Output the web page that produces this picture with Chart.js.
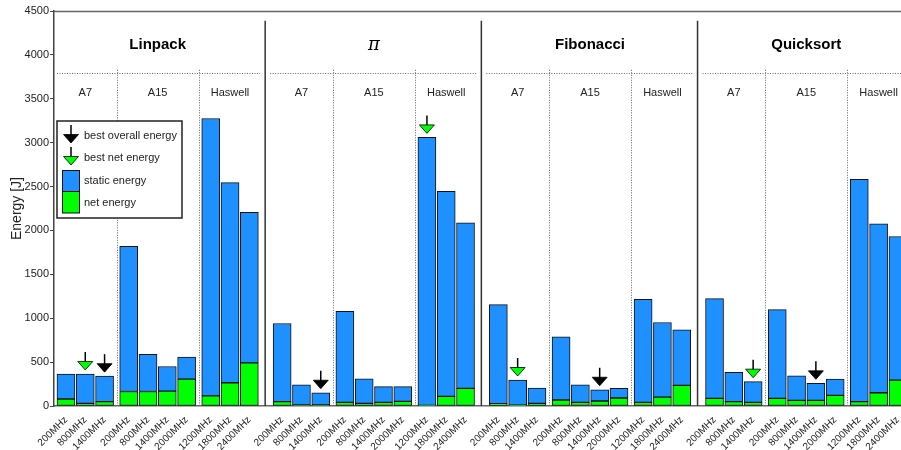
<!DOCTYPE html>
<html>
<head>
<meta charset="utf-8">
<script src="https://cdn.jsdelivr.net/npm/chart.js@4.4.1/dist/chart.umd.min.js"></script>
<style>
  html, body { margin: 0; padding: 0; background: #fff; }
  #wrap { width: 901px; height: 450px; }
</style>
</head>
<body>
<div id="wrap"><canvas id="energyChart"></canvas></div>
<script>
// benchmarks and cpus
const benchmarks = ['Linpack', 'π', 'Fibonacci', 'Quicksort'];
const cpus = ['A7', 'A15', 'Haswell'];
const frequencies = ['200MHz', '800MHz', '1400MHz',
  '200MHz', '800MHz', '1400MHz', '2000MHz',
  '1200MHz', '1800MHz', '2400MHz'];

// total energy (J) per bar
const linpackTotal = [365, 365, 340, 1818, 590, 450, 556, 3275, 2545, 2205];
const piTotal = [940, 240, 151, 1078, 310, 220, 220, 3060, 2446, 2088];
const fibonacciTotal = [1155, 296, 205, 787, 240, 185, 201, 1215, 951, 867];
const quicksortTotal = [1223, 383, 277, 1098, 344, 258, 307, 2582, 2075, 1931];

// net energy (J) per bar
const linpackNet = [80, 30, 50, 165, 165, 170, 307, 115, 265, 492];
const piNet = [49, 11, 11, 42, 30, 42, 53, 8, 110, 201];
const fibonacciNet = [26, 10, 30, 68, 42, 57, 91, 42, 102, 235];
const quicksortNet = [87, 49, 42, 87, 64, 64, 121, 49, 151, 295];

// index of the best configuration in each benchmark
const bestOverall = [2, 2, 5, 5];
const bestNet = [1, 7, 1, 2];

const totals = [linpackTotal, piTotal, fibonacciTotal, quicksortTotal];
const nets = [linpackNet, piNet, fibonacciNet, quicksortNet];

// bar layout on a linear x axis (one unit = one bar slot)
const slotOffsets = [0, 1, 2, 3.25, 4.25, 5.25, 6.25, 7.5, 8.5, 9.5];
const groupStep = 11.2;
const cpuCenters = [1, 4.75, 8.5];
const cpuDividers = [2.625, 6.875];

const xPos = [], xLabels = [], netData = [], staticData = [];
benchmarks.forEach((b, g) => {
  slotOffsets.forEach((o, i) => {
    const x = g * groupStep + o;
    xPos.push(x);
    xLabels.push(frequencies[i]);
    netData.push({ x: x, y: nets[g][i] });
    staticData.push({ x: x, y: totals[g][i] - nets[g][i] });
  });
});

const FONT = "'Liberation Sans', Arial, sans-serif";

function drawArrow(ctx, cx, tipY, fill) {
  ctx.save();
  ctx.strokeStyle = '#000';
  ctx.lineWidth = 1.5;
  ctx.beginPath();
  ctx.moveTo(cx, tipY - 18);
  ctx.lineTo(cx, tipY - 8);
  ctx.stroke();
  ctx.beginPath();
  ctx.moveTo(cx - 7.5, tipY - 8.5);
  ctx.lineTo(cx + 7.5, tipY - 8.5);
  ctx.lineTo(cx, tipY);
  ctx.closePath();
  ctx.fillStyle = fill;
  ctx.fill();
  ctx.lineWidth = 0.8;
  ctx.stroke();
  ctx.restore();
}

const decorations = {
  id: 'decorations',
  beforeDatasetsDraw(chart) {
    const { ctx, chartArea: a, scales: { x, y } } = chart;
    ctx.save();
    // top frame
    ctx.strokeStyle = '#666';
    ctx.lineWidth = 1.5;
    ctx.beginPath();
    ctx.moveTo(a.left, a.top + 0.5);
    ctx.lineTo(a.right, a.top + 0.5);
    ctx.stroke();

    // solid separators between benchmarks
    ctx.strokeStyle = '#333';
    ctx.lineWidth = 1.5;
    for (let g = 1; g < benchmarks.length; g++) {
      const px = x.getPixelForValue(g * groupStep - 0.88);
      ctx.beginPath();
      ctx.moveTo(px, y.getPixelForValue(4390));
      ctx.lineTo(px, y.getPixelForValue(0));
      ctx.stroke();
    }

    // dotted lines
    ctx.strokeStyle = '#666';
    ctx.lineWidth = 1;
    ctx.setLineDash([1, 1.5]);
    benchmarks.forEach((b, g) => {
      const x0 = Math.max(x.getPixelForValue(g * groupStep - 0.88) + 5, a.left + 3);
      const x1 = x.getPixelForValue((g + 1) * groupStep - 0.88) - 5;
      const hy = Math.round(y.getPixelForValue(3790)) + 0.5;
      ctx.beginPath();
      ctx.moveTo(x0, hy);
      ctx.lineTo(Math.min(x1, a.right), hy);
      ctx.stroke();
      cpuDividers.forEach(d => {
        const px = Math.round(x.getPixelForValue(g * groupStep + d)) + 0.5;
        ctx.beginPath();
        ctx.moveTo(px, y.getPixelForValue(3830));
        ctx.lineTo(px, y.getPixelForValue(0));
        ctx.stroke();
      });
    });
    ctx.setLineDash([]);

    // titles
    ctx.fillStyle = '#000';
    ctx.textAlign = 'center';
    ctx.textBaseline = 'middle';
    benchmarks.forEach((b, g) => {
      const cx = x.getPixelForValue(g * groupStep + 4.75);
      if (b === 'π') {
        ctx.font = "italic 18px 'DejaVu Serif', serif";
      } else {
        ctx.font = 'bold 15px ' + FONT;
      }
      ctx.fillText(b, cx, y.getPixelForValue(4112));
      ctx.font = '11px ' + FONT;
      ctx.fillStyle = '#222';
      cpus.forEach((c, k) => {
        ctx.fillText(c, x.getPixelForValue(g * groupStep + cpuCenters[k]), y.getPixelForValue(3567));
      });
      ctx.fillStyle = '#000';
    });
    ctx.restore();
  },
  afterDatasetsDraw(chart) {
    const { ctx, scales: { x, y } } = chart;
    benchmarks.forEach((b, g) => {
      const i = bestOverall[g];
      drawArrow(ctx, x.getPixelForValue(g * groupStep + slotOffsets[i]),
        y.getPixelForValue(totals[g][i]) - 4, '#000');
      const j = bestNet[g];
      drawArrow(ctx, x.getPixelForValue(g * groupStep + slotOffsets[j]),
        y.getPixelForValue(totals[g][j]) - 4, '#00ff00');
    });

    // legend box
    ctx.save();
    ctx.fillStyle = '#fff';
    ctx.fillRect(57, 121, 125, 97);
    ctx.strokeStyle = '#222';
    ctx.lineWidth = 1.5;
    ctx.strokeRect(57, 121, 125, 97);
    drawArrow(ctx, 71, 143, '#000');
    drawArrow(ctx, 71, 165, '#00ff00');
    ctx.lineWidth = 1;
    ctx.strokeStyle = '#111';
    ctx.fillStyle = '#1e90ff';
    ctx.fillRect(62.5, 170.5, 17, 21);
    ctx.strokeRect(62.5, 170.5, 17, 21);
    ctx.fillStyle = '#00ff00';
    ctx.fillRect(62.5, 191.5, 17, 21.5);
    ctx.strokeRect(62.5, 191.5, 17, 21.5);
    ctx.fillStyle = '#222';
    ctx.font = '11px ' + FONT;
    ctx.textAlign = 'left';
    ctx.textBaseline = 'middle';
    ctx.fillText('best overall energy', 84, 136);
    ctx.fillText('best net energy', 84, 158);
    ctx.fillText('static energy', 84, 181);
    ctx.fillText('net energy', 84, 203);
    ctx.restore();
  }
};

new Chart(document.getElementById('energyChart'), {
  type: 'bar',
  data: {
    datasets: [{
      label: 'net energy',
      data: netData,
      backgroundColor: '#00ff00',
      borderColor: '#111',
      borderWidth: 1,
      borderSkipped: false,
      grouped: false,
      barThickness: 18
    }, {
      label: 'static energy',
      data: staticData,
      backgroundColor: '#1e90ff',
      borderColor: '#111',
      borderWidth: 1,
      borderSkipped: false,
      grouped: false,
      barThickness: 18
    }]
  },
  options: {
    responsive: true,
    maintainAspectRatio: false,
    animation: false,
    layout: { padding: { top: 11, right: 0, left: 0, bottom: 0 } },
    plugins: {
      legend: { display: false },
      tooltip: { enabled: false }
    },
    scales: {
      x: {
        type: 'linear',
        offset: false,
        min: -0.62,
        max: 43.26,
        grid: { display: false },
        border: { color: '#666', width: 1.5 },
        afterBuildTicks: (scale) => {
          scale.ticks = xPos.map(v => ({ value: v }));
        },
        afterFit: (scale) => {
          scale.height = 44;
          scale.paddingLeft = 0;
          scale.paddingRight = 0;
        },
        ticks: {
          autoSkip: false,
          minRotation: 45,
          maxRotation: 45,
          padding: 0,
          color: '#222',
          font: { family: FONT, size: 10 },
          callback: (value, index) => xLabels[index]
        }
      },
      y: {
        stacked: true,
        min: 0,
        max: 4500,
        afterFit: (scale) => { scale.width = 54; },
        grid: { display: true, drawOnChartArea: false, tickLength: 4, color: '#444' },
        border: { color: '#444', width: 1.5 },
        ticks: {
          stepSize: 500,
          padding: 1,
          color: '#222',
          font: { family: FONT, size: 11 },
          callback: (value) => String(value)
        },
        title: {
          display: true,
          text: 'Energy [J]',
          color: '#222',
          padding: { top: 9, bottom: 0 },
          font: { family: FONT, size: 14 }
        }
      }
    }
  },
  plugins: [decorations]
});
</script>
</body>
</html>
